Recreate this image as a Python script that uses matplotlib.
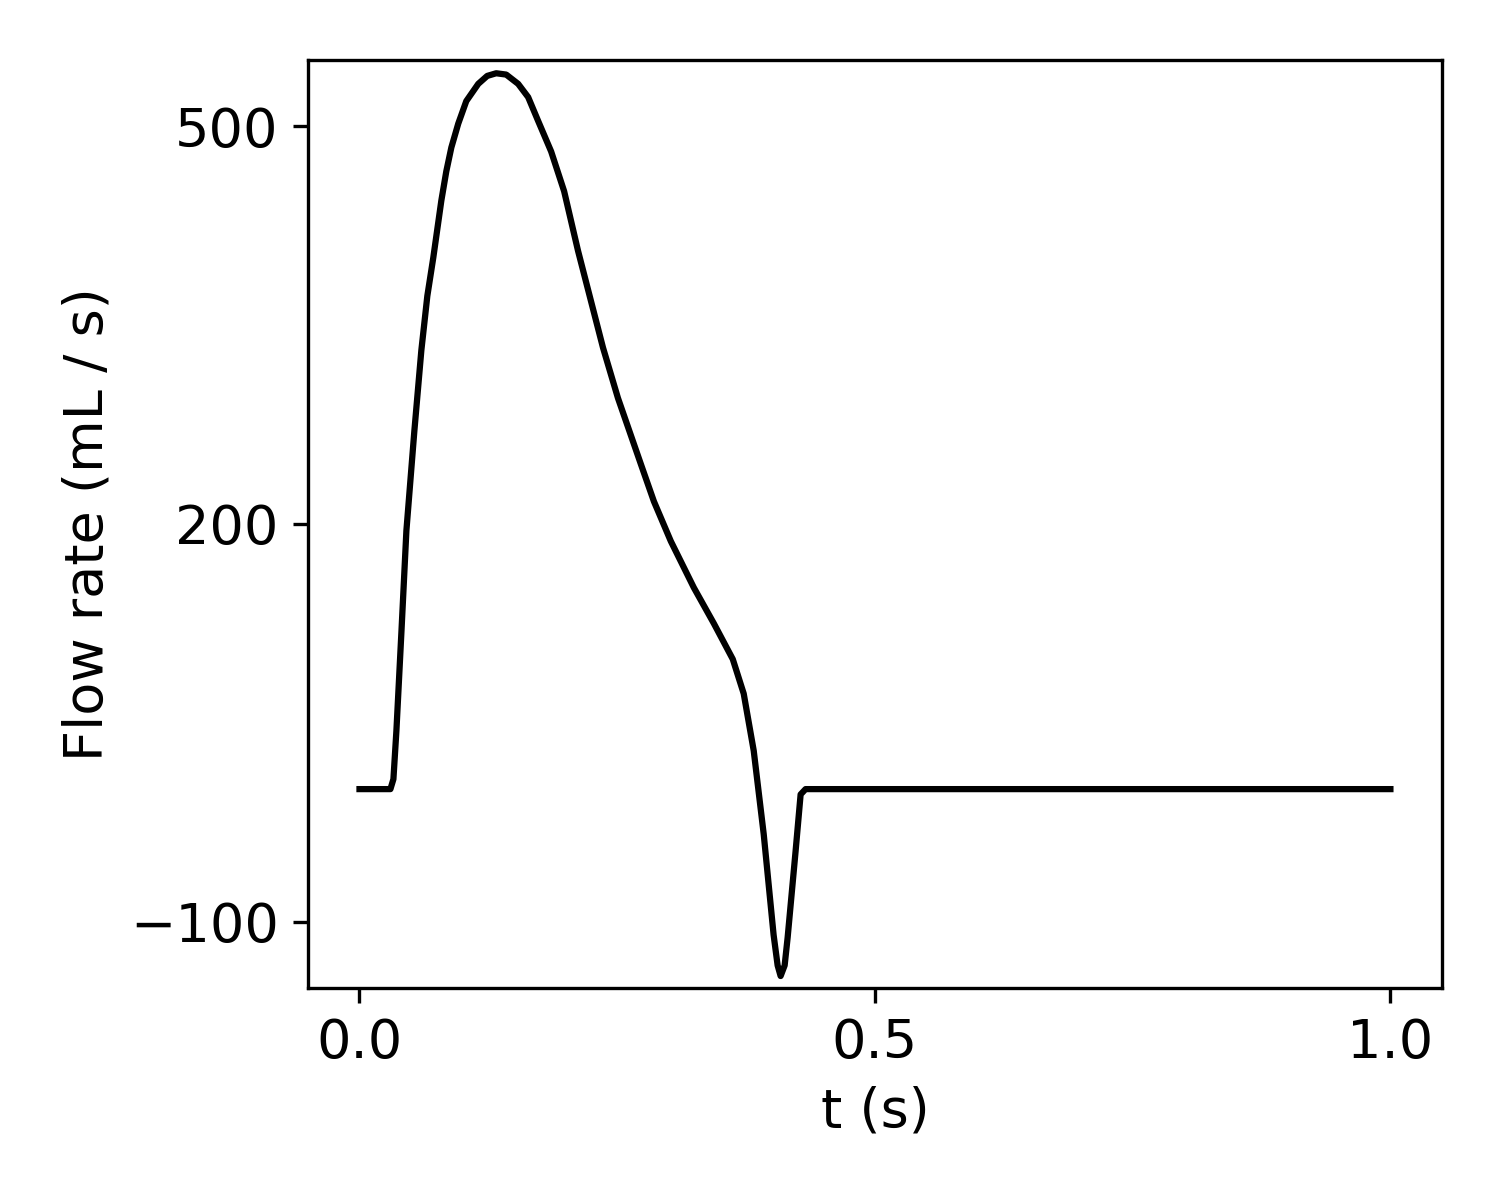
import numpy as np
import matplotlib
matplotlib.use('Agg')
import matplotlib.pyplot as plt

# flow waveform
t = [0.0, 0.030, 0.0329, 0.0358, 0.0407, 0.0455, 0.0532, 0.060, 0.0658, 0.0716,
     0.0794, 0.0842, 0.0891, 0.0958, 0.1036, 0.1152, 0.1239, 0.1326, 0.1423, 0.1539,
     0.1636, 0.1733, 0.1859, 0.1985, 0.212, 0.2246, 0.2362, 0.2507, 0.273, 0.2856,
     0.302, 0.3243, 0.3437, 0.3621, 0.3727, 0.3824, 0.3921, 0.4017, 0.4056, 0.4085,
     0.4124, 0.4153, 0.423, 0.4279, 0.4327, 1.0]
q = [0, 0, 7.5, 44, 119, 195, 270, 331, 372, 401,
     444, 466, 484, 502, 519, 532, 538, 540, 539, 532,
     522, 504, 481, 451, 406, 368, 333, 295, 245, 217,
     187, 152, 125, 98, 72, 29, -34, -110, -133, -141,
     -133, -112, -47, -4, 0, 0]

xticks = [0.0, 0.5, 1.0]
yticks = [-100, 200, 500]

plt.rcParams['font.size'] = 13
fig = plt.figure(figsize=(5, 4), dpi=300)
ax = fig.add_axes([0.2053, 0.1767, 0.7560, 0.7733])
ax.plot(t, q, color='black', linewidth=1.5)
ax.set_ylim(-150, 550)
ax.set_xticks(xticks)
ax.set_yticks(yticks)
ax.set_xlabel('t (s)')
ax.set_ylabel('Flow rate (mL / s)')
fig.savefig('out.png', dpi=300)
